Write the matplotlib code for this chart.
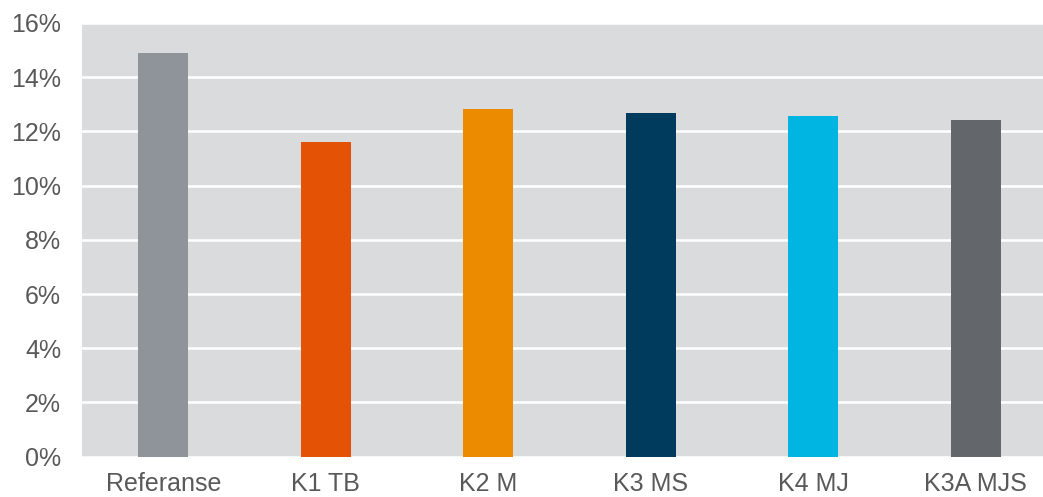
import matplotlib
matplotlib.use("Agg")
import matplotlib.pyplot as plt
from matplotlib.ticker import FuncFormatter

categories = ["Referanse", "K1 TB", "K2 M", "K3 MS", "K4 MJ", "K3A MJS"]
values = [14.91, 11.61, 12.83, 12.68, 12.56, 12.41]
colors = ["#8f939a", "#e35205", "#ec8b00", "#003a5d", "#00b5e2", "#63666a"]
yticks = [0, 2, 4, 6, 8, 10, 12, 14, 16]

plt.rcParams['font.family'] = ['Liberation Sans', 'DejaVu Sans']

fig = plt.figure(figsize=(10.43, 4.97), dpi=100)
ax = fig.add_axes([82 / 1043, 40.4 / 497, 975 / 1043, 433.6 / 497])
ax.set_facecolor("#dadbdd")
ax.bar(range(len(categories)), values, width=0.31, color=colors, zorder=3)
ax.set_xlim(-0.5, len(categories) - 0.5)
ax.set_ylim(0, 16)
ax.set_yticks(yticks)
ax.yaxis.set_major_formatter(FuncFormatter(lambda v, p: f"{v:.0f}%"))
ax.set_xticks(range(len(categories)))
ax.set_xticklabels(categories)
ax.grid(axis="y", color="white", linewidth=1.8, zorder=1)
ax.set_axisbelow(True)
for s in ax.spines.values():
    s.set_visible(False)
ax.tick_params(axis="both", length=0, labelsize=18, labelcolor="#595959")
ax.tick_params(axis="y", pad=15)
ax.tick_params(axis="x", pad=11)
fig.savefig("out.png", dpi=100)
